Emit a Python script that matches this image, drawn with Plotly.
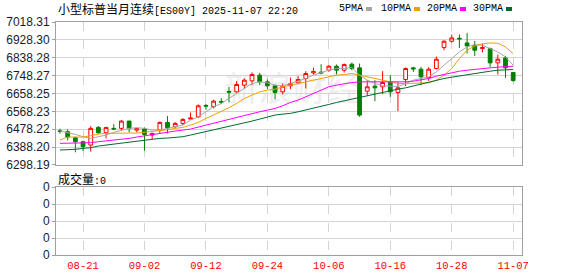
import plotly.graph_objects as go

dates = ["08-18","08-19","08-20","08-21","08-22","08-25","08-26","08-27","08-28","08-29",
         "09-01","09-02","09-03","09-04","09-05","09-08","09-09","09-10","09-11","09-12",
         "09-15","09-16","09-17","09-18","09-19","09-22","09-23","09-24","09-25","09-26",
         "09-29","09-30","10-01","10-02","10-03","10-06","10-07","10-08","10-09","10-10",
         "10-13","10-14","10-15","10-16","10-17","10-20","10-21","10-22","10-23","10-24",
         "10-27","10-28","10-29","10-30","10-31","11-03","11-04","11-05","11-06","11-07"]

open_ = [6470.0,6465.7,6435.6,6415.5,6398.7,6487.5,6460.7,6482.5,6482.5,6519.3,
         6474.0,6479.0,6449.0,6474.0,6512.6,6490.9,6507.6,6529.4,6541.1,6598.0,
         6591.4,6618.2,6668.4,6666.7,6700.2,6722.0,6750.5,6717.0,6696.9,6666.7,
         6696.9,6711.9,6733.7,6762.0,6765.6,6775.6,6795.7,6775.6,6805.8,6787.3,
         6670.0,6695.3,6691.9,6717.0,6663.4,6728.7,6787.3,6780.6,6737.1,6784.0,
         6889.5,6921.3,6936.4,6913.0,6901.2,6884.5,6884.5,6812.5,6837.6,6763.9]
high = [6481.0,6477.5,6440.6,6420.5,6494.2,6494.2,6489.0,6504.0,6524.4,6521.0,
        6484.0,6487.5,6461.0,6517.6,6544.5,6514.3,6534.4,6562.9,6603.1,6606.5,
        6626.6,6634.9,6691.9,6720.3,6733.7,6763.9,6762.0,6728.7,6703.6,6708.6,
        6738.8,6745.5,6770.6,6789.0,6805.8,6800.7,6804.0,6809.0,6814.1,6809.0,
        6725.4,6725.4,6770.6,6750.5,6717.0,6789.0,6792.4,6792.4,6790.7,6844.3,
        6926.4,6954.8,6956.5,6963.2,6923.0,6909.6,6889.5,6854.3,6847.6,6767.2]
low = [6456.0,6422.0,6361.9,6368.6,6365.2,6454.0,6432.0,6474.0,6472.4,6462.4,
       6462.0,6370.0,6429.0,6457.0,6457.0,6485.8,6499.0,6527.7,6536.1,6576.3,
       6583.0,6604.8,6613.1,6663.4,6683.5,6700.2,6700.0,6680.0,6628.2,6653.3,
       6680.0,6703.6,6683.5,6753.8,6755.5,6767.2,6753.8,6763.9,6775.6,6541.1,
       6646.6,6619.8,6655.0,6641.6,6569.6,6695.3,6767.2,6700.2,6722.0,6779.0,
       6876.1,6914.6,6887.8,6859.4,6847.6,6864.4,6792.4,6753.8,6737.1,6717.0]
close = [6468.0,6438.9,6415.5,6390.4,6482.5,6460.7,6487.5,6479.5,6519.3,6482.5,
         6482.5,6452.0,6457.0,6512.6,6485.8,6507.6,6527.7,6534.4,6596.4,6594.7,
         6619.8,6614.8,6665.1,6703.6,6725.4,6753.8,6717.0,6696.9,6663.4,6695.3,
         6708.6,6728.7,6758.8,6768.9,6762.0,6795.7,6775.6,6804.0,6784.0,6549.5,
         6691.9,6686.8,6713.6,6666.7,6686.8,6784.0,6782.3,6742.0,6780.6,6830.9,
         6921.3,6938.1,6933.1,6897.9,6876.1,6889.5,6812.5,6830.9,6787.3,6723.7]

ma5 = [6469.1,6462.4,6452.3,6440.6,6432.2,6440.6,6449.0,6462.4,6474.1,6482.5,
       6485.8,6482.5,6474.1,6474.1,6482.5,6490.9,6499.2,6524.4,6541.1,6566.2,
       6591.4,6608.1,6633.2,6658.4,6683.5,6708.6,6717.0,6712.0,6700.2,6696.9,
       6708.6,6720.3,6733.7,6750.5,6763.9,6775.6,6784.0,6784.0,6789.0,6750.5,
       6725.4,6708.6,6696.9,6696.9,6693.5,6708.6,6725.4,6733.7,6742.1,6767.2,
       6800.7,6834.2,6867.7,6892.9,6904.6,6901.2,6884.5,6867.7,6842.6,6800.7]
ma10 = [6423.9,6438.9,6438.9,6438.9,6445.6,6454.0,6457.4,6459.0,6459.0,6459.0,
        6459.0,6462.4,6469.1,6472.4,6475.8,6482.5,6487.5,6499.2,6512.6,6532.7,
        6549.5,6566.2,6586.3,6608.1,6633.2,6650.0,6666.7,6675.1,6680.1,6691.9,
        6700.2,6708.6,6717.0,6725.4,6733.7,6742.1,6750.5,6753.8,6758.9,6750.5,
        6742.1,6733.7,6725.4,6717.0,6708.6,6708.6,6708.6,6708.6,6712.0,6725.4,
        6750.5,6784.0,6834.2,6876.1,6897.9,6907.9,6913.0,6911.3,6892.9,6859.4]
ma20 = [6407.1,6407.1,6407.1,6408.8,6410.5,6415.5,6418.8,6423.9,6428.9,6432.2,
        6438.9,6445.6,6452.3,6459.0,6464.1,6469.1,6474.1,6479.1,6489.2,6499.2,
        6507.6,6519.3,6529.4,6539.4,6549.5,6557.9,6566.2,6574.6,6583.0,6596.4,
        6613.1,6624.9,6641.6,6658.4,6675.1,6691.9,6700.2,6708.6,6713.6,6717.0,
        6717.0,6717.0,6717.0,6715.3,6715.3,6717.0,6720.3,6725.4,6733.7,6745.5,
        6753.8,6763.9,6770.6,6775.6,6780.6,6784.0,6787.3,6790.7,6792.4,6795.7]
ma30 = [6373.6,6373.6,6377.0,6382.0,6385.3,6393.7,6398.7,6402.1,6407.1,6412.1,
        6415.5,6423.9,6428.9,6432.2,6433.9,6435.6,6440.6,6449.0,6457.4,6465.7,
        6474.1,6482.5,6490.9,6499.2,6507.6,6519.3,6529.4,6541.1,6549.5,6554.5,
        6557.9,6566.2,6574.6,6583.0,6591.4,6603.1,6613.1,6621.5,6633.2,6641.6,
        6650.0,6658.4,6666.7,6675.1,6680.1,6686.8,6696.9,6706.9,6717.0,6725.4,
        6733.7,6740.4,6747.1,6753.8,6758.9,6763.9,6770.6,6775.6,6777.3,6779.0]

volume = [0] * len(dates)

y_ticks = [6298.19, 6388.20, 6478.22, 6568.23, 6658.25, 6748.27, 6838.28, 6928.30, 7018.31]
y_tick_text = ["6298.19", "6388.20", "6478.22", "6568.23", "6658.25", "6748.27", "6838.28", "6928.30", "7018.31"]
x_tick_labels = ["08-21", "09-02", "09-12", "09-24", "10-06", "10-16", "10-28", "11-07"]
vol_ticks = [0, 1, 2, 3, 4]
vol_tick_text = ["0", "0", "0", "0", "0"]

title_cjk = "小型标普当月连续"
title_latin = "[ES00Y] 2025-11-07 22:20"
vol_cjk = "成交量"
vol_latin = ":0"
watermark = "新浪财经"
ma_names = ["5PMA", "10PMA", "20PMA", "30PMA"]
ma_colors = ["#a6a6a6", "#f0a000", "#ff00ff", "#006b2e"]
RED = "#ff0000"
GREEN = "#008000"
GRID = "#d4d4d4"
FRAME = "#a0a0a0"
MONO = "Liberation Mono, monospace"
CJK = "Noto Sans CJK SC"

fig = go.Figure()

fig.add_trace(go.Candlestick(
    x=dates, open=open_, high=high, low=low, close=close,
    increasing=dict(line=dict(color=RED, width=1), fillcolor="white"),
    decreasing=dict(line=dict(color=GREEN, width=1), fillcolor=GREEN),
    whiskerwidth=0, xaxis="x", yaxis="y", showlegend=False, hoverinfo="skip"))

for vals, name, col in zip([ma5, ma10, ma20, ma30], ma_names, ma_colors):
    fig.add_trace(go.Scatter(x=dates, y=vals, mode="lines", name=name,
                             line=dict(color=col, width=1), xaxis="x", yaxis="y",
                             showlegend=False, hoverinfo="skip"))

fig.add_trace(go.Bar(x=dates, y=volume, marker_color=RED, xaxis="x2", yaxis="y2",
                     showlegend=False, hoverinfo="skip"))

x_range = [-0.52, len(dates) - 1 + 1.15]

common_x = dict(type="category", range=x_range, tickmode="array", tickvals=x_tick_labels,
                showgrid=True, gridcolor=GRID, griddash="dash", gridwidth=1,
                showline=True, linecolor=FRAME, linewidth=1, mirror=True,
                zeroline=False, ticks="", rangeslider=dict(visible=False), fixedrange=True,
                automargin=False)

fig.update_layout(
    width=578, height=276,
    margin=dict(l=56, r=56, t=22, b=21, autoexpand=False),
    paper_bgcolor="white", plot_bgcolor="white",
    showlegend=False,
    xaxis=dict(**common_x, anchor="y", showticklabels=False),
    yaxis=dict(domain=[0.3863, 1.0], range=[y_ticks[0], y_ticks[-1]], tickmode="array",
               tickvals=y_ticks, ticktext=y_tick_text, showgrid=True, gridcolor=GRID,
               showline=True, linecolor=FRAME, linewidth=1, mirror=True, zeroline=False,
               ticks="outside", ticklen=3, tickcolor=FRAME, automargin=False,
               tickfont=dict(family="Liberation Sans, Arial", size=12, color="#1a1a2a")),
    xaxis2=dict(**common_x, anchor="y2", showticklabels=True,
                tickfont=dict(family=MONO, size=10.5, color=RED)),
    yaxis2=dict(domain=[0.0, 0.2918], range=[0, 4], tickmode="array", tickvals=vol_ticks,
                ticktext=vol_tick_text, showgrid=True, gridcolor=GRID,
                showline=True, linecolor=FRAME, linewidth=1, mirror=True, zeroline=False,
                ticks="outside", ticklen=3, tickcolor=FRAME, automargin=False,
                tickfont=dict(family="Liberation Sans, Arial", size=12, color="#1a1a2a")),
)

W = 466.0
H = 233.0
def px(xp):
    return (xp - 56) / W
def py(yp):
    return (255 - yp) / H

# faint watermark drawn beneath the data
fig.add_shape(type="rect", xref="paper", yref="paper", x0=px(200), x1=px(385),
              y0=py(112), y1=py(70), layer="below", line=dict(width=0),
              fillcolor="rgba(0,0,0,0)",
              label=dict(text=watermark, font=dict(family=CJK, size=34, color="#eeeeee"),
                         textposition="middle center"))

def mixed(cjk, latin):
    return (f'<span style="font-family:{CJK};font-size:12px">{cjk}</span>'
            f'<span style="font-family:Liberation Mono;font-size:10px">{latin}</span>')

fig.add_annotation(xref="paper", yref="paper", x=px(57), y=py(9), xanchor="left", yanchor="middle",
                   text=mixed(title_cjk, title_latin), showarrow=False, borderpad=0,
                   font=dict(family=CJK, size=12, color="#000"))
fig.add_annotation(xref="paper", yref="paper", x=px(57), y=py(178), xanchor="left", yanchor="middle",
                   text=mixed(vol_cjk, vol_latin), showarrow=False, borderpad=0,
                   font=dict(family=CJK, size=12, color="#000"))

leg_x = [338, 380, 426, 472]
sq_x = [366, 414, 460, 506]
for name, col, lx, sx in zip(ma_names, ma_colors, leg_x, sq_x):
    fig.add_annotation(xref="paper", yref="paper", x=px(lx), y=py(9), xanchor="left", yanchor="middle",
                       text=name, showarrow=False, borderpad=0,
                       font=dict(family=MONO, size=10, color="#000"))
    fig.add_shape(type="rect", xref="paper", yref="paper", x0=px(sx), x1=px(sx + 6),
                  y0=py(11), y1=py(7), fillcolor=col, line=dict(width=0))

fig.write_html("out.html")
